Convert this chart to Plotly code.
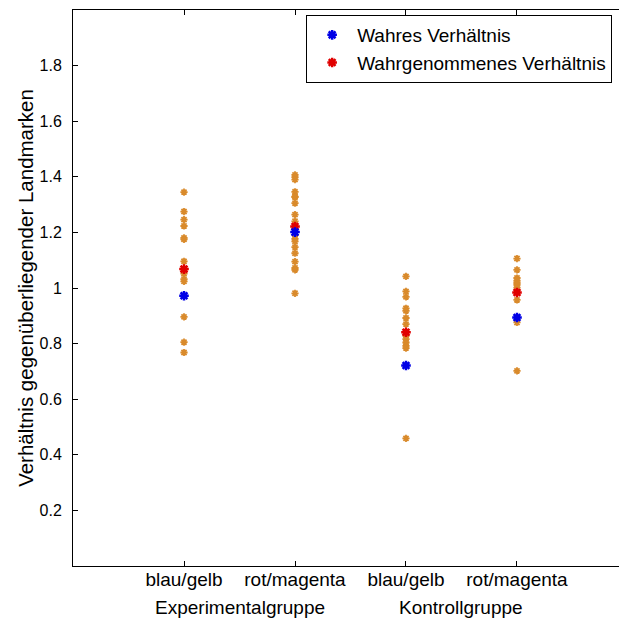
import plotly.graph_objects as go

# Condition positions and labels
conditions = ["blau/gelb", "rot/magenta", "blau/gelb", "rot/magenta"]
positions = [1, 2, 3, 4]
groups = ["Experimentalgruppe", "Kontrollgruppe"]

# Individual perceived ratios per condition
einzel_exp_bg = [1.345, 1.275, 1.246, 1.223, 1.180, 1.175, 1.096, 1.060, 1.052,
                 1.032, 1.024, 0.896, 0.805, 0.768]
einzel_exp_rm = [1.407, 1.399, 1.390, 1.346, 1.329, 1.327, 1.305, 1.264, 1.240,
                 1.191, 1.177, 1.168, 1.147, 1.125, 1.095, 1.072, 1.065, 0.981]
einzel_kon_bg = [1.042, 0.988, 0.968, 0.927, 0.918, 0.892, 0.870, 0.828, 0.816,
                 0.804, 0.792, 0.784, 0.459]
einzel_kon_rm = [1.106, 1.065, 1.036, 1.026, 1.018, 1.011, 1.001, 0.957, 0.876,
                 0.702]

# True and mean perceived ratio per condition
wahres = [0.972, 1.201, 0.721, 0.894]
wahrgenommen = [1.068, 1.221, 0.841, 0.984]

FONT = "Liberation Sans, Arial, sans-serif"
ORANGE = "#D98A2B"
BLUE = "#0000E6"
RED = "#E00000"

fig = go.Figure()

einzel = [einzel_exp_bg, einzel_exp_rm, einzel_kon_bg, einzel_kon_rm]
for pos, werte in zip(positions, einzel):
    fig.add_trace(go.Scatter(
        x=[pos] * len(werte), y=werte, mode="markers", showlegend=False,
        marker=dict(symbol="asterisk-open", size=6, color=ORANGE,
                    line=dict(color=ORANGE, width=1.8)),
        hoverinfo="y"))

fig.add_trace(go.Scatter(
    x=positions, y=wahrgenommen, mode="markers", name="Wahrgenommenes Verhältnis",
    marker=dict(symbol="asterisk-open", size=8, color=RED,
                line=dict(color=RED, width=2.5))))
fig.add_trace(go.Scatter(
    x=positions, y=wahres, mode="markers", name="Wahres Verhältnis",
    marker=dict(symbol="asterisk-open", size=8, color=BLUE,
                line=dict(color=BLUE, width=2.5))))

for i, name in enumerate(groups):
    fig.add_annotation(x=positions[2 * i] + 0.5, y=-0.074, xref="x", yref="paper",
                       text=name, showarrow=False,
                       font=dict(family=FONT, size=19, color="black"),
                       yanchor="middle")

fig.update_layout(
    width=619, height=621,
    margin=dict(l=73, r=0, t=10, b=55),
    paper_bgcolor="white", plot_bgcolor="white",
    font=dict(family=FONT, size=19, color="black"),
    legend=dict(x=0.427, y=0.991, xanchor="left", yanchor="top",
                bgcolor="white", bordercolor="black", borderwidth=1,
                traceorder="reversed", itemwidth=40, tracegroupgap=0,
                font=dict(family=FONT, size=19, color="black")),
    xaxis=dict(range=[0, 4.919], tickvals=positions, ticktext=conditions,
               showgrid=False, zeroline=False, showline=True, linecolor="black",
               linewidth=1, mirror="ticks", ticks="inside", ticklen=5,
               tickcolor="black", tickfont=dict(size=19), ticklabelstandoff=-4),
    yaxis=dict(range=[0, 2], tickvals=[0.2, 0.4, 0.6, 0.8, 1, 1.2, 1.4, 1.6, 1.8],
               ticktext=["0.2", "0.4", "0.6", "0.8", "1", "1.2", "1.4", "1.6", "1.8"],
               showgrid=False, zeroline=False, showline=True, linecolor="black",
               linewidth=1, mirror=False, ticks="inside", ticklen=5,
               tickcolor="black", tickfont=dict(size=16), ticklabelstandoff=7,
               title=dict(text="Verhältnis gegenüberliegender Landmarken",
                          font=dict(size=20.5), standoff=0)),
)

fig.write_html("out.html")
